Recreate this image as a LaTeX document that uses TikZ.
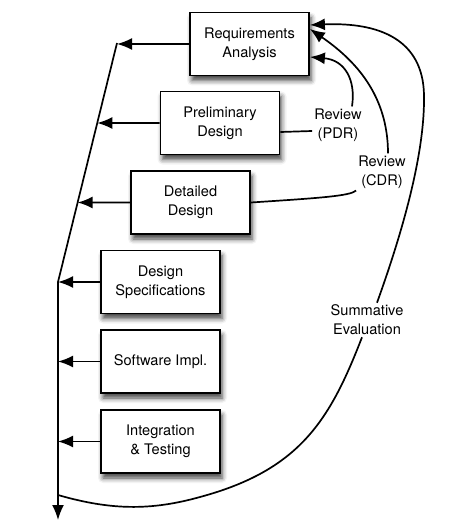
\documentclass[tikz,border=0pt]{standalone}
\usepackage{fontspec}
\setmainfont{TeX Gyre Heros}
\usetikzlibrary{arrows.meta,shadows.blur}

\begin{document}
\begin{tikzpicture}[x=1bp, y=-1bp, main/.style={draw, rectangle, fill=white, line width=1.8bp, minimum width=119bp, minimum height=63bp, align=center, font=\fontsize{14.6bp}{19bp}\selectfont, blur shadow={shadow xshift=2bp, shadow yshift=-5bp, shadow blur radius=5bp, shadow opacity=75}}, info/.style={align=center, inner sep=2bp, font=\fontsize{14.6bp}{19bp}\selectfont}, n/.style={-{Latex[length=15bp, width=12bp]}, line width=1.7bp}, d/.style={line width=1.7bp}]
            \useasboundingbox (0,0) rectangle (474,531);
            % nodes
            \node[main] (RA) at (249.5,44) {Requirements\\Analysis};
            \node[main] (PD) at (220,123) {Preliminary\\Design};
            \node[main] (DD) at (190.5,202.5) {Detailed\\Design};
            \node[main] (DS) at (160.5,282) {Design\\Specifications};
            \node[main] (SI) at (160.5,361.5) {Software Impl.};
            \node[main] (IT) at (160.5,441.5) {Integration\\\& Testing};
            \node[info] (PDR) at (338,125) {Review\\(PDR)};
            \node[info] (CDR) at (382,172) {Review\\(CDR)};
            \node[info] (SE) at (367,320) {Summative\\Evaluation};
            \coordinate (top) at (117,43);
            \coordinate (bend) at (58,282);
            \coordinate (bottom) at (58,520);
            \coordinate (sum) at (58,495);
            % edges
            \draw [n] (top) -- (bend) -- (bottom);
            \draw [n] (RA.west) -- (RA.west -| top);
            \draw [n] (PD.west) -- (intersection of top--bend and PD.west--PD.east);
            \draw [n] (DD.west) -- (intersection of top--bend and DD.west--DD.east);
            \foreach \b in {DS,SI,IT} \draw [n] (\b.west) -- (\b.west -| bend);
            \draw [d] (PD.east |- 0,132) -- (PDR.west |- 0,131);
            \draw [n] ([xshift=14bp]PDR.north) .. controls (356,80) and (345,60) .. (RA.east |- 0,57);
            \draw [d] (DD.east) .. controls (320,198) and (350,196) .. (CDR.south west);
            \draw [n] ([xshift=6bp]CDR.north) .. controls (388,95) and (355,60) .. (RA.east |- 0,29);
            \draw [d] (sum) .. controls (110,510) and (150,511) .. (200,497) .. controls (300,470) and (330,420) .. ([xshift=-5bp]SE.south);
            \draw [n] ([xshift=10bp]SE.north) .. controls (405,225) and (425,150) .. (424,95) .. controls (423,40) and (380,22) .. (RA.east |- 0,25);
        \end{tikzpicture}
\end{document}
